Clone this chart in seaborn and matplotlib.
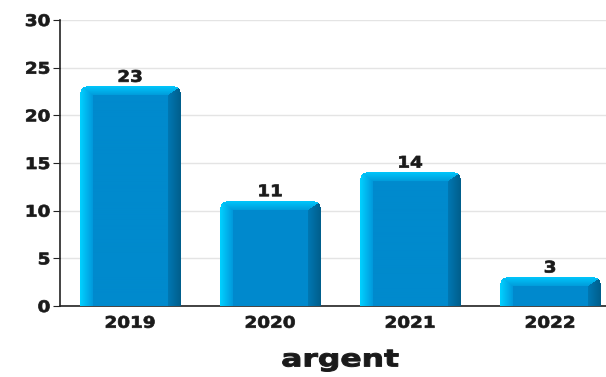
import numpy as np
import pandas as pd
import seaborn as sns
import matplotlib.pyplot as plt
from matplotlib.colors import to_rgb
from matplotlib.patheffects import AbstractPathEffect
from matplotlib.transforms import Affine2D

years = ["2019", "2020", "2021", "2022"]
counts = [23, 11, 14, 3]

df = pd.DataFrame({"year": years, "count": counts})


# the reference font is wider and heavier than DejaVu Sans Bold:
# stretch it sideways and thicken the glyphs a little
class Stretch(AbstractPathEffect):
    def __init__(self, sx, anchor="center", lw=0.5):
        super().__init__()
        self.sx = sx
        self.anchor = anchor
        self.lw = lw

    def draw_path(self, renderer, gc, tpath, affine, rgbFace=None):
        v = tpath.vertices
        if len(v):
            cx = v[:, 0].max() if self.anchor == "right" else (v[:, 0].min() + v[:, 0].max()) / 2
        else:
            cx = 0
        tr = Affine2D().translate(-cx, 0).scale(self.sx, 1).translate(cx, 0) + affine
        gc0 = renderer.new_gc()
        gc0.copy_properties(gc)
        gc0.set_linewidth(self.lw)
        renderer.draw_path(gc0, tpath, tr, rgbFace)
        gc0.restore()


sns.set_style("white")
plt.rcParams['font.family'] = ['DejaVu Sans']

fig = plt.figure(figsize=(6.06, 3.77), dpi=100)
ax = fig.add_axes([60 / 606, 71 / 377, 560 / 606, 286 / 377])

sns.barplot(data=df, x="year", y="count", color="#008acd", width=0.72,
            saturation=1, ax=ax, zorder=2)

ax.set_xlim(-0.5, 3.5)
ax.set_ylim(0, 30)
ax.set_yticks(range(0, 31, 5))
ax.grid(axis="y", color="#e4e4e4", linewidth=1, zorder=0)
ax.set_axisbelow(True)

face = np.array(to_rgb("#008acd"))
left_edge = np.array(to_rgb("#00d0ff"))
left_in = np.array(to_rgb("#0096da"))
right_in = np.array(to_rgb("#0079b5"))
right_edge = np.array(to_rgb("#005e8c"))
top_hi = np.array(to_rgb("#00c4fa"))
top_lo = np.array(to_rgb("#009ad9"))

ppu = 286 / 30  # pixels per unit on y
for p in ax.patches:
    x0, w, h = p.get_x(), p.get_width(), p.get_height()
    W = int(round(w * 140))
    H = max(int(round(h * ppu)), 2)
    img = np.zeros((H, W, 4))
    img[..., :3] = face
    img[..., 3] = 1
    bs, bt, r = 13, 9, 6
    jj, ii = np.meshgrid(np.arange(W), np.arange(H))
    dl, dr, dt = jj, W - 1 - jj, ii
    left = (dl < bs) & (dl * bt <= dt * bs + 0.01) & (dl <= dr)
    right = (dr < bs) & (dr * bt <= dt * bs + 0.01) & (dr < dl)
    top = (dt < bt) & ~left & ~right
    t = (dl / bs)[..., None]
    img[..., :3] = np.where(left[..., None], left_edge * (1 - t) + left_in * t, img[..., :3])
    t = (dr / bs)[..., None]
    img[..., :3] = np.where(right[..., None], right_edge * (1 - t) + right_in * t, img[..., :3])
    t = (dt / bt)[..., None]
    img[..., :3] = np.where(top[..., None], top_hi * (1 - t) + top_lo * t, img[..., :3])
    # rounded top corners
    for cx in (r, W - 1 - r):
        d = np.hypot(jj - cx, ii - r)
        mask = (ii < r) & (((jj < r) & (cx == r)) | ((jj > W - 1 - r) & (cx != r))) & (d > r)
        img[mask, 3] = 0
    p.set_visible(False)
    ax.imshow(img, extent=(x0, x0 + w, 0, h), aspect="auto", zorder=3,
              interpolation="bilinear")
    ax.text(x0 + w / 2, h + 0.2, f"{int(h)}", ha="center", va="bottom",
            fontsize=11.5, fontweight="bold", color="#1a1a1a", zorder=4,
            path_effects=[Stretch(1.15)])

ax.set_xlim(-0.5, 3.5)
ax.set_ylim(0, 30)

sns.despine(ax=ax, top=True, right=True)
for s in ("left", "bottom"):
    ax.spines[s].set_color("#222222")
    ax.spines[s].set_linewidth(1.2)

ax.set_xticks([0.5, 1.5, 2.5], minor=True)
ax.tick_params(axis="x", which="major", length=0, pad=7, labelsize=11.5)
ax.tick_params(axis="x", which="minor", length=4, color="#222222", direction="out")
ax.tick_params(axis="y", length=5, color="#222222", direction="out", left=True, pad=2, labelsize=11.5)
for lab in ax.get_xticklabels():
    lab.set_fontweight("bold")
    lab.set_color("#1a1a1a")
    lab.set_path_effects([Stretch(1.15)])
for lab in ax.get_yticklabels():
    lab.set_fontweight("bold")
    lab.set_color("#1a1a1a")
    lab.set_path_effects([Stretch(1.15, "right")])

ax.set_ylabel("")
ax.set_xlabel("argent", fontsize=17, fontweight="bold", color="#1a1a1a", labelpad=12,
              path_effects=[Stretch(1.33, lw=0.7)])

fig.savefig("out.png", dpi=100)
